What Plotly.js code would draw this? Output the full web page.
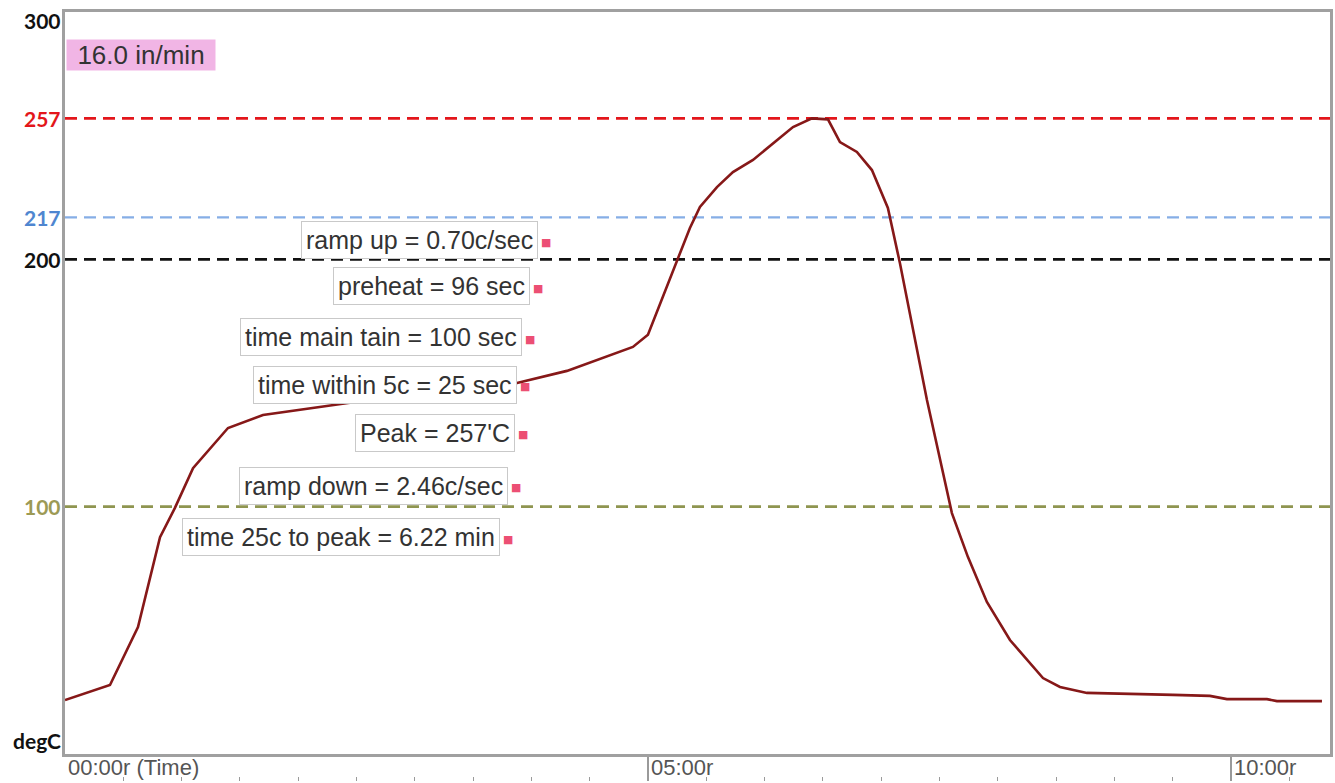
<!DOCTYPE html>
<html><head><meta charset="utf-8">
<script src="https://cdn.plot.ly/plotly-3.0.1.min.js"></script>
<style>html,body{margin:0;padding:0;background:#fff}#chart{width:1335px;height:783px}</style>
</head><body><div id="chart"></div>
<script>
// ---- data ----
const timeMin = [0, 0.386, 0.626, 0.815, 0.943, 1.098, 1.398, 1.698, 2.427, 3.877, 4.305, 4.871, 5.0, 5.249, 5.36, 5.446, 5.592, 5.729, 5.901, 6.244, 6.407, 6.544, 6.647, 6.792, 6.921, 7.058, 7.161, 7.393, 7.607, 7.744, 7.907, 8.105, 8.388, 8.534, 8.765, 9.503, 9.82, 9.966, 10.309, 10.395, 10.781];
const tempC = [21.8, 27.9, 51.3, 87.7, 99.5, 115.6, 131.8, 137.1, 141.9, 150.0, 154.9, 164.6, 169.5, 199.7, 212.7, 221.2, 229.2, 235.3, 240.2, 253.5, 257, 256.6, 247.4, 243.4, 236.1, 220.8, 198.5, 143.1, 97.4, 79.7, 61.5, 46.1, 30.7, 27.1, 24.7, 23.9, 23.5, 22.2, 22.2, 21.4, 21.4];
const thresholdValues = [257, 217, 200, 100];
const yTickValues = [300, 257, 217, 200, 100];
const yTickLabels = ['300', '257', '217', '200', '100'];
const yUnitLabel = 'degC';
const xTickValues = [0, 5, 10];
const xTickLabels = ['00:00r (Time)', '05:00r', '10:00r'];
const statLabels = ['ramp up = 0.70c/sec', 'preheat = 96 sec', 'time main tain = 100 sec', 'time within 5c = 25 sec', "Peak = 257'C", 'ramp down = 2.46c/sec', 'time 25c to peak = 6.22 min'];
const speedLabel = '16.0 in/min';

// ---- styles & positions ----
const thresholdColors = ['#e3161b', '#86aee6', '#111111', '#8f9550'];
const thresholdWidths = [2.6, 2.2, 2.8, 2.6];
const yTickColors = ['#111111', '#e3161b', '#4f86d0', '#111111', '#9c9a55'];
const yTickShift = [-8, 0, 0, 0, 0];
const statX = [4.057, 3.988, 3.919, 3.877, 3.860, 3.800, 3.731];
const statY = [207.8, 189.2, 168.6, 149.2, 129.8, 108.4, 87.7];
const frameColor = '#a0a0a0';

const traces = [
  {x: timeMin, y: tempC, type: 'scatter', mode: 'lines',
   line: {color: '#861818', width: 2.6}, hoverinfo: 'skip', showlegend: false},
  {x: [], y: [], xaxis: 'x2', yaxis: 'y', type: 'scatter', showlegend: false, hoverinfo: 'skip'}
];

const shapes = thresholdValues.map((v, i) => ({
  type: 'line', xref: 'paper', x0: 0, x1: 1, yref: 'y', y0: v, y1: v,
  line: {color: thresholdColors[i], width: thresholdWidths[i], dash: '12px,7px'}, layer: 'below'
}));

const annotations = [];
yTickValues.forEach((v, i) => annotations.push({
  xref: 'paper', x: 0, xanchor: 'right', xshift: -2, yref: 'y', y: v, yanchor: 'middle', yshift: yTickShift[i],
  text: yTickLabels[i], showarrow: false,
  font: {family: 'Lato, "Open Sans", sans-serif', size: 21, color: yTickColors[i], weight: 'bold'}
}));
annotations.push({
  xref: 'paper', x: 0, xanchor: 'right', xshift: -2, yref: 'y', y: 0, yanchor: 'bottom', yshift: -1,
  text: yUnitLabel, showarrow: false,
  font: {family: 'Lato, "Open Sans", sans-serif', size: 21, color: '#111', weight: 'bold'}
});
xTickValues.forEach((v, i) => annotations.push({
  xref: 'x', x: v, xanchor: 'left', xshift: 1, yref: 'paper', y: 0.018, yanchor: 'middle',
  text: xTickLabels[i], showarrow: false,
  font: {family: '"Liberation Sans", Arial, sans-serif', size: 22, color: '#555'}
}));
statLabels.forEach((t, i) => {
  annotations.push({
    xref: 'x', x: statX[i], xanchor: 'right', yref: 'y', y: statY[i], yanchor: 'middle',
    text: t, showarrow: false, bgcolor: '#ffffff', bordercolor: '#c9c9c9', borderwidth: 1, borderpad: 4,
    font: {family: '"Liberation Sans", Arial, sans-serif', size: 25, color: '#333'}
  });
  annotations.push({
    xref: 'x', x: statX[i], xanchor: 'left', xshift: 1, yref: 'y', y: statY[i], yanchor: 'middle', yshift: -2,
    text: '■', showarrow: false,
    font: {family: '"DejaVu Sans", sans-serif', size: 11, color: '#ec4f74'}
  });
});
annotations.push({
  xref: 'paper', x: 0, xanchor: 'left', xshift: 1, yref: 'y', y: 282.6, yanchor: 'middle',
  text: speedLabel, showarrow: false, bgcolor: '#f1b5e5', borderpad: 0, width: 148, height: 30, align: 'center',
  font: {family: '"Liberation Sans", Arial, sans-serif', size: 26, color: '#333'}
});

const layout = {
  width: 1335, height: 783,
  margin: {l: 65, r: 5, t: 12, b: 2},
  paper_bgcolor: '#ffffff', plot_bgcolor: '#ffffff',
  showlegend: false,
  xaxis: {range: [0, 10.85], anchor: 'y', showline: true, mirror: true, linecolor: frameColor, linewidth: 3,
          showgrid: false, zeroline: false, ticks: '', showticklabels: false},
  xaxis2: {range: [0, 10.85], overlaying: 'x', anchor: 'free', position: 0, side: 'bottom',
           showline: false, showgrid: false, zeroline: false, showticklabels: false,
           ticks: 'inside', tick0: 0, dtick: 5, ticklen: 24, tickwidth: 1.5, tickcolor: '#9a9a9a',
           minor: {ticks: 'inside', dtick: 0.5, ticklen: 4, tickwidth: 1, tickcolor: '#9a9a9a'}},
  yaxis: {range: [0, 300], domain: [0.0351, 1], showline: true, mirror: true, linecolor: frameColor, linewidth: 3,
          showgrid: false, zeroline: false, ticks: '', showticklabels: false},
  shapes: shapes,
  annotations: annotations
};

Plotly.newPlot('chart', traces, layout, {displayModeBar: false, staticPlot: true});
</script>
</body></html>
